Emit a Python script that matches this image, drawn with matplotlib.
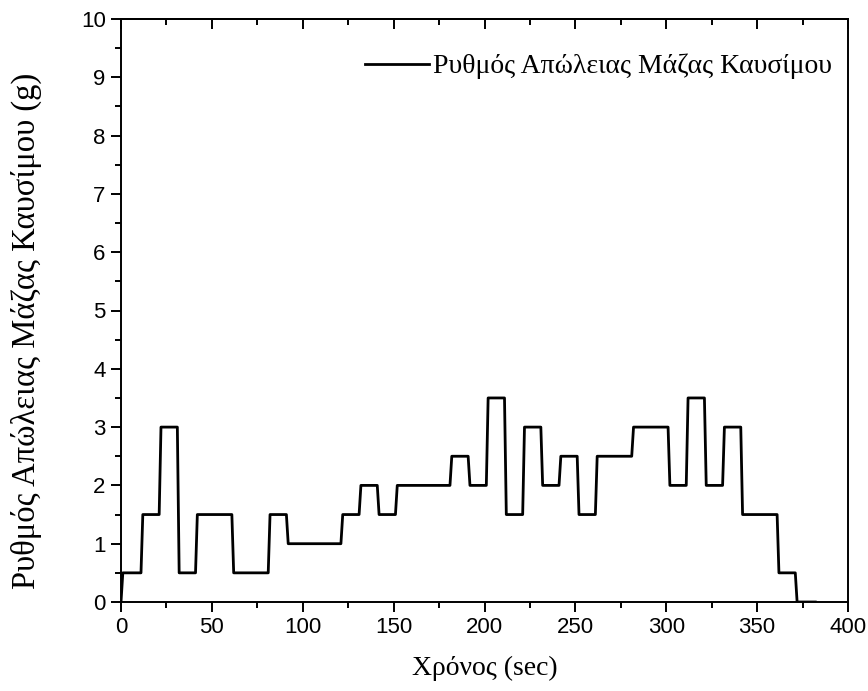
import matplotlib.pyplot as plt
from matplotlib.ticker import MultipleLocator

# χρόνος (sec) και ρυθμός απώλειας μάζας (g)
time_s = [0, 1, 11, 12, 21, 22, 31, 32, 41, 42, 61, 62, 81, 82, 91, 92,
          121, 122, 131, 132, 141, 142, 151, 152, 181, 182, 191, 192,
          201, 202, 211, 212, 221, 222, 231, 232, 241, 242, 251, 252,
          261, 262, 281, 282, 301, 302, 311, 312, 321, 322, 331, 332,
          341, 342, 361, 362, 371, 372, 382]
mass_loss = [0, 0.5, 0.5, 1.5, 1.5, 3, 3, 0.5, 0.5, 1.5, 1.5, 0.5, 0.5, 1.5,
             1.5, 1, 1, 1.5, 1.5, 2, 2, 1.5, 1.5, 2, 2, 2.5, 2.5, 2, 2, 3.5,
             3.5, 1.5, 1.5, 3, 3, 2, 2, 2.5, 2.5, 1.5, 1.5, 2.5, 2.5, 3, 3,
             2, 2, 3.5, 3.5, 2, 2, 3, 3, 1.5, 1.5, 0.5, 0.5, 0, 0]

label = 'Ρυθμός Απώλειας Μάζας Καυσίμου'
serif = ['Liberation Serif', 'DejaVu Serif']

fig = plt.figure(figsize=(8.68, 6.91), dpi=100)
ax = fig.add_axes([121 / 868, 1 - 602 / 691, (848 - 121) / 868, (602 - 19) / 691])

ax.plot(time_s, mass_loss, color='black', lw=2.0, label=label)

ax.set_xlim(0, 400)
ax.set_ylim(0, 10)
ax.xaxis.set_major_locator(MultipleLocator(50))
ax.xaxis.set_minor_locator(MultipleLocator(25))
ax.yaxis.set_major_locator(MultipleLocator(1))
ax.yaxis.set_minor_locator(MultipleLocator(0.5))

for sp in ax.spines.values():
    sp.set_linewidth(1.4)

ax.tick_params(which='both', direction='out', width=1.4, labelsize=16,
               right=False, top=False, pad=4)
ax.tick_params(which='major', length=7)
ax.tick_params(which='minor', length=4)
for t in ax.get_xticklabels() + ax.get_yticklabels():
    t.set_family(['Liberation Sans', 'DejaVu Sans'])

# πάνω άξονας: μόνο εσωτερικές υποδιαιρέσεις
top = ax.secondary_xaxis('top')
top.xaxis.set_major_locator(MultipleLocator(50))
top.xaxis.set_minor_locator(MultipleLocator(25))
top.tick_params(which='both', direction='in', width=1.4, labeltop=False)
top.tick_params(which='major', length=7)
top.tick_params(which='minor', length=4)
top.spines['top'].set_linewidth(1.4)

ax.set_xlabel('Χρόνος (sec)', family=serif, fontsize=20)
ax.set_ylabel(label + ' (g)', family=serif, fontsize=23.5)
ax.xaxis.set_label_coords(0.5, -0.093)
ax.yaxis.set_label_coords(-0.109, 0.465)

leg = ax.legend(loc='upper right', bbox_to_anchor=(1.02, 0.993), frameon=False,
                prop={'family': serif, 'size': 20},
                handlelength=2.3, handletextpad=0.15, borderaxespad=0.5,
                borderpad=0.6)

fig.savefig('out.png', dpi=100)
